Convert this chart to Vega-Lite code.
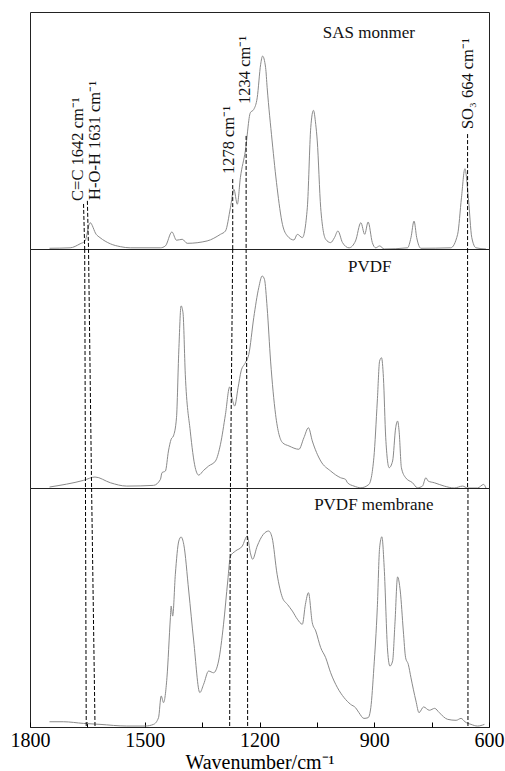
{
  "$schema": "https://vega.github.io/schema/vega-lite/v6.json",
  "autosize": {"type": "pad"},
  "padding": {"left": 9, "top": 11, "right": 1, "bottom": 0},
  "background": "white",
  "spacing": 0,
  "bounds": "flush",
  "config": {
    "view": {"stroke": "#222", "strokeWidth": 1},
    "concat": {"spacing": 0},
    "font": "Liberation Serif, serif",
    "text": {"font": "Liberation Serif, serif", "color": "#111"}
  },
  "datasets": {
    "sas": [
      {"w":1749,"a":0.3},{"w":1695,"a":0.5},{"w":1669,"a":2.2},{"w":1656,"a":3.4},{"w":1643,"a":11.1},{"w":1627,"a":6.2},{"w":1617,"a":4.8},{"w":1590,"a":2.2},{"w":1564,"a":1.0},{"w":1538,"a":0.5},{"w":1459,"a":0.5},{"w":1446,"a":1.3},{"w":1429,"a":7.2},{"w":1417,"a":3.7},{"w":1402,"a":4.1},{"w":1389,"a":2.4},{"w":1337,"a":3.4},{"w":1302,"a":6.2},{"w":1289,"a":7.6},{"w":1276,"a":17.4},{"w":1267,"a":25.2},{"w":1258,"a":18.9},{"w":1250,"a":30.1},{"w":1237,"a":41.4},{"w":1224,"a":57.5},{"w":1215,"a":58.9},{"w":1206,"a":63.8},{"w":1197,"a":77.9},{"w":1192,"a":81.4},{"w":1184,"a":76.5},{"w":1180,"a":68.1},{"w":1167,"a":45.6},{"w":1154,"a":25.9},{"w":1140,"a":10.4},{"w":1127,"a":5.5},{"w":1110,"a":3.8},{"w":1101,"a":6.2},{"w":1088,"a":4.8},{"w":1075,"a":17.4},{"w":1066,"a":51.2},{"w":1059,"a":58.5},{"w":1053,"a":52.6},{"w":1049,"a":45.6},{"w":1040,"a":17.4},{"w":1027,"a":4.1},{"w":1014,"a":2.7},{"w":1004,"a":4.8},{"w":995,"a":7.6},{"w":983,"a":2.7},{"w":966,"a":0.5},{"w":949,"a":3.4},{"w":935,"a":11.1},{"w":925,"a":6.2},{"w":916,"a":11.4},{"w":905,"a":2.7},{"w":896,"a":0.5},{"w":886,"a":1.3},{"w":874,"a":0},{"w":813,"a":0.5},{"w":804,"a":4.8},{"w":796,"a":11.8},{"w":789,"a":4.8},{"w":778,"a":0.3},{"w":700,"a":0.5},{"w":682,"a":6.2},{"w":672,"a":21.6},{"w":663,"a":33.9},{"w":654,"a":21.6},{"w":645,"a":4.8},{"w":634,"a":0.5},{"w":608,"a":0}
    ],
    "pvdf": [
      {"w":1749,"a":0.4},{"w":1660,"a":3.2},{"w":1630,"a":4.6},{"w":1590,"a":2.2},{"w":1547,"a":0.8},{"w":1477,"a":1.1},{"w":1459,"a":3.6},{"w":1455,"a":6.4},{"w":1446,"a":7.1},{"w":1438,"a":15.5},{"w":1431,"a":20.4},{"w":1425,"a":21.8},{"w":1417,"a":29.4},{"w":1411,"a":57.3},{"w":1405,"a":76.2},{"w":1400,"a":73.3},{"w":1394,"a":47.6},{"w":1381,"a":23.8},{"w":1368,"a":8.5},{"w":1359,"a":5.4},{"w":1346,"a":7.4},{"w":1333,"a":9.2},{"w":1315,"a":11.3},{"w":1302,"a":18.3},{"w":1289,"a":30.8},{"w":1278,"a":42.3},{"w":1272,"a":37.8},{"w":1265,"a":34.3},{"w":1256,"a":42.0},{"w":1248,"a":49.0},{"w":1237,"a":52.4},{"w":1228,"a":55.9},{"w":1215,"a":71.3},{"w":1202,"a":83.8},{"w":1193,"a":88.7},{"w":1187,"a":87.3},{"w":1180,"a":75.4},{"w":1171,"a":53.1},{"w":1158,"a":30.8},{"w":1140,"a":19.0},{"w":1123,"a":17.6},{"w":1097,"a":16.2},{"w":1084,"a":21.0},{"w":1072,"a":25.2},{"w":1062,"a":19.7},{"w":1040,"a":11.3},{"w":1014,"a":7.1},{"w":988,"a":4.3},{"w":975,"a":3.6},{"w":970,"a":2.2},{"w":953,"a":0.8},{"w":935,"a":0.1},{"w":914,"a":1.5},{"w":901,"a":12.7},{"w":892,"a":36.4},{"w":886,"a":53.1},{"w":881,"a":54.5},{"w":876,"a":46.2},{"w":870,"a":21.0},{"w":861,"a":8.5},{"w":852,"a":11.3},{"w":844,"a":25.2},{"w":839,"a":28.0},{"w":835,"a":23.8},{"w":829,"a":8.5},{"w":818,"a":4.3},{"w":800,"a":2.2},{"w":787,"a":0.1},{"w":774,"a":0.8},{"w":765,"a":4.3},{"w":759,"a":2.9},{"w":743,"a":2.2},{"w":717,"a":0.8},{"w":691,"a":0},{"w":669,"a":0.8},{"w":656,"a":0},{"w":630,"a":0},{"w":614,"a":1.5},{"w":608,"a":0}
    ],
    "membrane": [
      {"w":1749,"a":2.2},{"w":1713,"a":2.2},{"w":1660,"a":1.5},{"w":1617,"a":1.1},{"w":1547,"a":0.4},{"w":1499,"a":0.4},{"w":1477,"a":1.1},{"w":1464,"a":3.9},{"w":1457,"a":13.0},{"w":1451,"a":10.2},{"w":1442,"a":20.6},{"w":1433,"a":45.7},{"w":1431,"a":50.6},{"w":1427,"a":46.4},{"w":1420,"a":63.9},{"w":1411,"a":77.8},{"w":1405,"a":79.5},{"w":1398,"a":76.4},{"w":1385,"a":56.9},{"w":1372,"a":36.0},{"w":1356,"a":14.4},{"w":1346,"a":17.9},{"w":1333,"a":23.4},{"w":1320,"a":22.7},{"w":1307,"a":27.6},{"w":1294,"a":43.0},{"w":1283,"a":61.1},{"w":1276,"a":71.5},{"w":1263,"a":73.6},{"w":1245,"a":75.7},{"w":1232,"a":79.9},{"w":1224,"a":72.9},{"w":1218,"a":70.2},{"w":1206,"a":75.7},{"w":1190,"a":80.6},{"w":1176,"a":82.0},{"w":1167,"a":79.2},{"w":1154,"a":63.9},{"w":1140,"a":54.1},{"w":1127,"a":51.3},{"w":1114,"a":48.5},{"w":1101,"a":45.1},{"w":1088,"a":43.0},{"w":1080,"a":51.3},{"w":1072,"a":56.2},{"w":1062,"a":43.6},{"w":1053,"a":40.2},{"w":1040,"a":33.2},{"w":1027,"a":29.0},{"w":1014,"a":22.7},{"w":996,"a":16.4},{"w":979,"a":12.3},{"w":962,"a":9.5},{"w":949,"a":8.1},{"w":940,"a":6.0},{"w":927,"a":3.6},{"w":916,"a":3.9},{"w":909,"a":8.1},{"w":901,"a":24.8},{"w":892,"a":49.9},{"w":886,"a":75.0},{"w":880,"a":79.6},{"w":874,"a":66.7},{"w":865,"a":31.8},{"w":859,"a":25.5},{"w":852,"a":27.6},{"w":846,"a":43.0},{"w":839,"a":62.8},{"w":832,"a":56.9},{"w":824,"a":40.2},{"w":818,"a":29.0},{"w":811,"a":26.2},{"w":804,"a":20.6},{"w":791,"a":10.9},{"w":783,"a":6.0},{"w":771,"a":8.4},{"w":756,"a":7.0},{"w":742,"a":7.8},{"w":730,"a":6.0},{"w":708,"a":3.2},{"w":686,"a":2.8},{"w":673,"a":3.6},{"w":663,"a":2.2},{"w":647,"a":1.1},{"w":630,"a":0.4},{"w":612,"a":1.1}
    ],
    "guides1": [
      {"top":1660,"bottom":1657,"from":19,"to":0},
      {"top":1650,"bottom":1647,"from":20.3,"to":0},
      {"top":1270,"bottom":1270,"from":29.5,"to":0},
      {"top":1235,"bottom":1235,"from":47.7,"to":0},
      {"top":656,"bottom":656,"from":48.5,"to":0}
    ],
    "guides2": [
      {"top":1657,"bottom":1655,"from":100,"to":0},
      {"top":1647,"bottom":1639,"from":100,"to":0},
      {"top":1270,"bottom":1276,"from":100,"to":0},
      {"top":1235,"bottom":1232,"from":100,"to":0},
      {"top":656,"bottom":656,"from":100,"to":0}
    ],
    "guides3": [
      {"top":1655,"bottom":1653,"from":100,"to":0},
      {"top":1639,"bottom":1630,"from":100,"to":0},
      {"top":1276,"bottom":1278,"from":100,"to":0},
      {"top":1232,"bottom":1231,"from":100,"to":0},
      {"top":655,"bottom":655,"from":100,"to":0}
    ],
    "notes": [
      {"label":"C=C 1642 cm⁻¹","w":1662,"a":20.3},
      {"label":"H-O-H 1631 cm⁻¹","w":1618,"a":20.7},
      {"label":"1278 cm⁻¹","w":1267,"a":31.6},
      {"label":"1234 cm⁻¹","w":1225,"a":61.2},
      {"label":"SO₃ 664 cm⁻¹","w":643,"a":50.6}
    ],
    "names1": [{"name":"SAS monmer","w":914,"a":91.1}],
    "names2": [{"name":"PVDF","w":912,"a":92.5}],
    "names3": [{"name":"PVDF membrane","w":901,"a":92.9}]
  },
  "vconcat": [
    {
      "width": 459, "height": 237,
      "layer": [
        {
          "data": {"name": "sas"},
          "mark": {"type": "line", "color": "#8a8a8a", "strokeWidth": 1, "interpolate": "monotone"},
          "encoding": {
            "x": {"field": "w", "type": "quantitative", "scale": {"domain": [600, 1800], "reverse": true, "nice": false}, "axis": null},
            "y": {"field": "a", "type": "quantitative", "scale": {"domain": [0, 100], "nice": false}, "axis": null},
            "order": {"field": "w", "sort": "descending"}
          }
        },
        {
          "data": {"name": "guides1"},
          "mark": {"type": "rule", "color": "#000", "strokeWidth": 1, "strokeDash": [4, 2]},
          "encoding": {
            "x": {"field": "top", "type": "quantitative"},
            "x2": {"field": "bottom"},
            "y": {"field": "from", "type": "quantitative"},
            "y2": {"field": "to"}
          }
        },
        {
          "data": {"name": "notes"},
          "mark": {"type": "text", "angle": 270, "align": "left", "baseline": "alphabetic", "fontSize": 16.5},
          "encoding": {
            "x": {"field": "w", "type": "quantitative"},
            "y": {"field": "a", "type": "quantitative"},
            "text": {"field": "label"}
          }
        },
        {
          "data": {"name": "names1"},
          "mark": {"type": "text", "align": "center", "baseline": "middle", "fontSize": 17},
          "encoding": {
            "x": {"field": "w", "type": "quantitative"},
            "y": {"field": "a", "type": "quantitative"},
            "text": {"field": "name"}
          }
        }
      ]
    },
    {
      "width": 459, "height": 239,
      "layer": [
        {
          "data": {"name": "pvdf"},
          "mark": {"type": "line", "color": "#8a8a8a", "strokeWidth": 1, "interpolate": "monotone"},
          "encoding": {
            "x": {"field": "w", "type": "quantitative", "scale": {"domain": [600, 1800], "reverse": true, "nice": false}, "axis": null},
            "y": {"field": "a", "type": "quantitative", "scale": {"domain": [0, 100], "nice": false}, "axis": null},
            "order": {"field": "w", "sort": "descending"}
          }
        },
        {
          "data": {"name": "guides2"},
          "mark": {"type": "rule", "color": "#000", "strokeWidth": 1, "strokeDash": [4, 2]},
          "encoding": {
            "x": {"field": "top", "type": "quantitative"},
            "x2": {"field": "bottom"},
            "y": {"field": "from", "type": "quantitative"},
            "y2": {"field": "to"}
          }
        },
        {
          "data": {"name": "names2"},
          "mark": {"type": "text", "align": "center", "baseline": "middle", "fontSize": 17},
          "encoding": {
            "x": {"field": "w", "type": "quantitative"},
            "y": {"field": "a", "type": "quantitative"},
            "text": {"field": "name"}
          }
        }
      ]
    },
    {
      "width": 459, "height": 239,
      "layer": [
        {
          "data": {"name": "membrane"},
          "mark": {"type": "line", "color": "#8a8a8a", "strokeWidth": 1, "interpolate": "monotone"},
          "encoding": {
            "x": {
              "field": "w", "type": "quantitative",
              "scale": {"domain": [600, 1800], "reverse": true, "nice": false},
              "axis": {
                "title": "Wavenumber/cm⁻¹",
                "values": [1800, 1650, 1500, 1350, 1200, 1050, 900, 750, 600],
                "labelExpr": "datum.value % 300 == 0 ? datum.label : ''",
                "format": "d",
                "grid": false, "domain": false,
                "tickSize": -5, "tickColor": "#000", "tickWidth": 1,
                "labelPadding": 8, "labelFont": "Liberation Serif, serif", "labelFontSize": 20, "labelColor": "#000",
                "labelOverlap": false, "labelFlush": false,
                "titleFont": "Liberation Serif, serif", "titleFontSize": 20, "titleFontWeight": "normal", "titleColor": "#000", "titlePadding": 2
              }
            },
            "y": {"field": "a", "type": "quantitative", "scale": {"domain": [0, 100], "nice": false}, "axis": null},
            "order": {"field": "w", "sort": "descending"}
          }
        },
        {
          "data": {"name": "guides3"},
          "mark": {"type": "rule", "color": "#000", "strokeWidth": 1, "strokeDash": [4, 2]},
          "encoding": {
            "x": {"field": "top", "type": "quantitative"},
            "x2": {"field": "bottom"},
            "y": {"field": "from", "type": "quantitative"},
            "y2": {"field": "to"}
          }
        },
        {
          "data": {"name": "names3"},
          "mark": {"type": "text", "align": "center", "baseline": "middle", "fontSize": 17},
          "encoding": {
            "x": {"field": "w", "type": "quantitative"},
            "y": {"field": "a", "type": "quantitative"},
            "text": {"field": "name"}
          }
        }
      ]
    }
  ]
}
